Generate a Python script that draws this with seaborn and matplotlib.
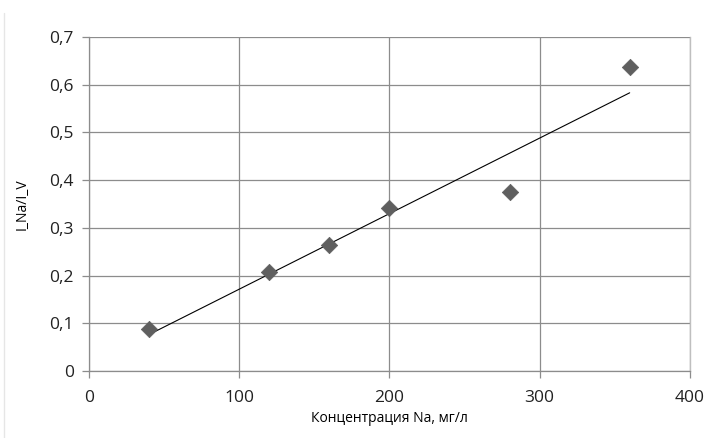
import numpy as np
import pandas as pd
import matplotlib
matplotlib.use("Agg")
import matplotlib.pyplot as plt
import seaborn as sns

# Data
conc = [40, 120, 160, 200, 280, 360]
ratio = [0.088, 0.208, 0.265, 0.341, 0.376, 0.637]
x_ticks = [0, 100, 200, 300, 400]
y_ticks = [0.0, 0.1, 0.2, 0.3, 0.4, 0.5, 0.6, 0.7]
y_tick_labels = ["0", "0,1", "0,2", "0,3", "0,4", "0,5", "0,6", "0,7"]
x_label = "Концентрация Na, мг/л"
y_label = "I_Na/I_V"

df = pd.DataFrame({"x": conc, "y": ratio})

sns.set_theme(style="white")
plt.rcParams['font.family'] = ['Open Sans', 'DejaVu Sans']

fig = plt.figure(figsize=(7.06, 4.38), dpi=100)
ax = fig.add_axes([0.126, 0.153, 0.851, 0.7625])

# Linear trendline (least squares) across data range
slope, intercept = np.polyfit(df["x"], df["y"], 1)
xs = np.array([min(conc), max(conc)])
sns.lineplot(x=xs, y=slope * xs + intercept, ax=ax, color="black", linewidth=0.8, zorder=3)

sns.scatterplot(data=df, x="x", y="y", ax=ax, marker="D", s=70, color="#5f5f5f",
                edgecolor="#5f5f5f", linewidth=0.5, zorder=4)

ax.set_xlim(0, 400)
ax.set_ylim(0, 0.7)
ax.set_xticks(x_ticks)
ax.set_xticklabels([str(t) for t in x_ticks])
ax.set_yticks(y_ticks)
ax.set_yticklabels(y_tick_labels)

ax.grid(True, color="#8c8c8c", linewidth=0.9)
ax.set_axisbelow(True)
for side in ["top", "right"]:
    ax.spines[side].set_color("#bfbfbf")
    ax.spines[side].set_linewidth(1.0)
for side in ["left", "bottom"]:
    ax.spines[side].set_color("#8c8c8c")
    ax.spines[side].set_linewidth(0.9)
ax.spines["top"].set_visible(False)

ax.tick_params(axis="both", which="both", direction="out", length=5, width=0.9,
               color="#8c8c8c", labelsize=12.5, labelcolor="#222222")
ax.tick_params(axis="x", pad=9)
ax.tick_params(axis="y", pad=6)
ax.tick_params(bottom=True, left=True)

ax.set_xlabel(x_label, fontsize=10, color="#000000", labelpad=3)
ax.set_ylabel(y_label, fontsize=10, color="#000000", labelpad=14)

# Faint outer chart border line on left
fig.add_artist(plt.Line2D([0.006, 0.006], [0.0, 0.97], color="#e6e6e6", linewidth=1.0))

fig.savefig("out.png", dpi=100, facecolor="white")
